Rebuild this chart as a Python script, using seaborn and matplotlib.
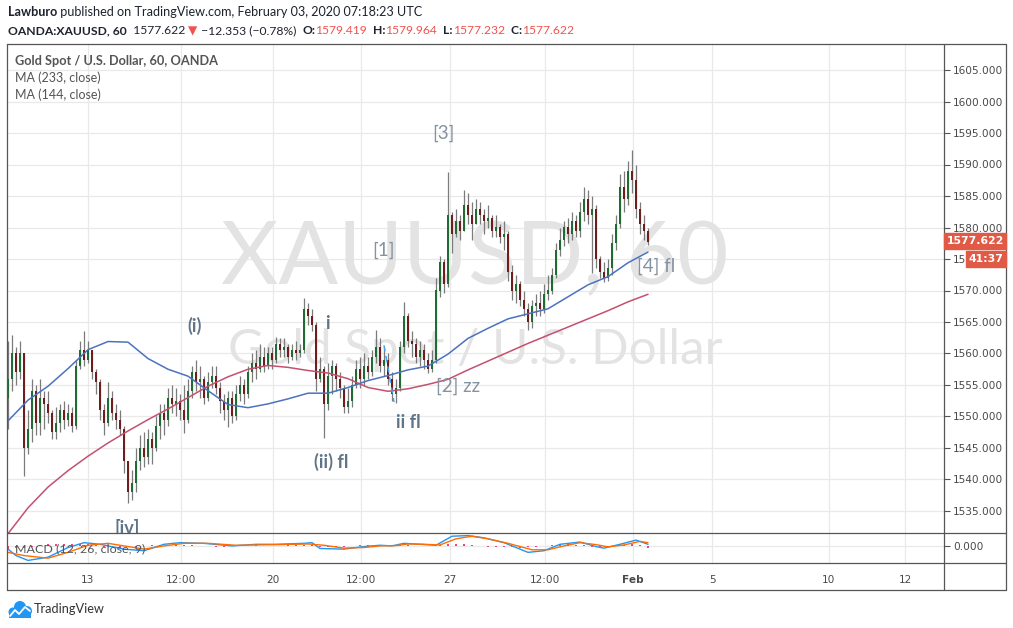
import numpy as np
import pandas as pd
import matplotlib
matplotlib.use("Agg")
import matplotlib.pyplot as plt
import seaborn as sns
from matplotlib.lines import Line2D
from matplotlib.patches import Rectangle, Circle
from matplotlib import font_manager

# ---------------- data (hourly-ish candles) ----------------
first_open = 1553.0
closes = [
    1556.0, 1560.0, 1557.0, 1560.0, 1545.0, 1548.0, 1554.0, 1549.0, 1553.0, 1552.0,
    1550.5, 1547.5, 1549.0, 1551.0, 1549.5, 1550.5, 1548.5, 1558.0, 1560.5, 1559.0,
    1560.5, 1557.0, 1555.5, 1551.0, 1549.0, 1553.0, 1550.5, 1549.5, 1548.0, 1543.0,
    1538.0, 1539.5, 1543.0, 1545.0, 1543.5, 1546.5, 1545.0, 1548.5, 1550.5, 1549.5,
    1553.0, 1552.0, 1552.5, 1551.0, 1549.5, 1554.0, 1557.0, 1555.5, 1556.0, 1553.0,
    1555.5, 1556.5, 1554.5, 1552.5, 1551.0, 1553.0, 1550.0, 1553.5, 1555.0, 1553.5,
    1557.0, 1558.5, 1557.5, 1559.5, 1558.0, 1560.0, 1559.0, 1561.5, 1560.5, 1561.0,
    1559.5, 1560.5, 1560.0, 1560.5, 1567.0, 1566.0, 1564.5, 1556.0, 1557.5, 1552.0,
    1556.5, 1558.0, 1556.0, 1554.5, 1551.5, 1552.5, 1555.0, 1557.5, 1556.0, 1558.0,
    1557.0, 1559.5, 1561.0, 1558.0, 1559.0, 1556.0, 1553.5, 1554.5, 1561.0, 1566.0,
    1562.0, 1561.5, 1559.5, 1560.5, 1559.0, 1557.5, 1559.0, 1570.0, 1574.5, 1571.0,
    1582.0, 1579.0, 1581.0, 1579.5, 1583.5, 1582.0, 1580.5, 1583.0, 1582.0, 1581.0,
    1581.5, 1579.5, 1580.0, 1578.5, 1579.0, 1573.0, 1570.0, 1571.0, 1568.5, 1567.0,
    1565.0, 1567.5, 1568.0, 1567.0, 1569.5, 1570.0, 1572.5, 1576.5, 1578.0, 1580.0,
    1579.0, 1581.0, 1579.5, 1582.5, 1584.5, 1582.0, 1583.0, 1575.0, 1573.0, 1572.0,
    1573.5, 1577.5, 1580.5, 1586.5, 1584.5, 1589.0, 1587.5, 1583.0, 1580.5, 1579.419,
    1577.622]
highs = [
    1562.0, 1563.0, 1561.0, 1562.0, 1560.0, 1551.0, 1556.0, 1555.0, 1556.0, 1554.0,
    1554.0, 1551.0, 1551.5, 1552.0, 1552.5, 1552.0, 1551.5, 1559.0, 1562.0, 1563.5,
    1562.0, 1560.5, 1557.5, 1556.0, 1552.0, 1555.5, 1554.0, 1552.0, 1551.0, 1548.5,
    1543.0, 1541.5, 1545.0, 1547.0, 1547.5, 1548.0, 1547.5, 1550.0, 1552.0, 1552.0,
    1554.5, 1555.0, 1554.5, 1553.5, 1555.0, 1556.0, 1558.0, 1559.0, 1558.0, 1556.5,
    1557.0, 1558.0, 1558.0, 1555.5, 1553.5, 1554.0, 1554.0, 1555.0, 1556.5, 1556.0,
    1558.0, 1560.0, 1560.5, 1561.5, 1561.0, 1561.0, 1561.0, 1562.6, 1562.5, 1562.5,
    1561.5, 1561.5, 1562.0, 1561.5, 1568.8, 1568.0, 1567.0, 1565.0, 1559.5, 1558.0,
    1558.5, 1559.0, 1558.5, 1557.0, 1555.0, 1554.5, 1556.5, 1559.0, 1559.5, 1560.0,
    1559.5, 1560.5, 1563.7, 1562.5, 1561.0, 1560.0, 1557.0, 1556.0, 1562.0, 1568.2,
    1566.5, 1563.5, 1562.5, 1562.0, 1561.5, 1560.0, 1560.5, 1572.0, 1575.5, 1575.0,
    1588.8, 1582.5, 1583.0, 1582.0, 1586.0, 1585.5, 1584.0, 1584.5, 1584.0, 1583.0,
    1583.5, 1582.0, 1582.0, 1580.5, 1581.0, 1579.5, 1574.0, 1572.5, 1571.5, 1570.0,
    1568.0, 1568.5, 1569.5, 1570.0, 1571.0, 1572.5, 1573.5, 1577.5, 1580.0, 1581.0,
    1581.5, 1582.5, 1582.0, 1584.0, 1586.5, 1586.0, 1585.0, 1583.5, 1575.5, 1574.5,
    1575.0, 1579.0, 1582.0, 1588.5, 1589.0, 1590.5, 1592.3, 1590.0, 1584.0, 1582.0,
    1579.964]
lows = [
    1548.0, 1554.0, 1555.0, 1556.0, 1540.5, 1544.0, 1546.0, 1547.0, 1547.0, 1548.0,
    1549.0, 1546.5, 1546.5, 1547.5, 1548.0, 1548.5, 1547.5, 1548.0, 1557.5, 1558.0,
    1558.5, 1556.0, 1553.5, 1549.5, 1547.0, 1548.5, 1549.5, 1548.0, 1547.0, 1541.0,
    1536.3, 1536.8, 1538.0, 1541.5, 1542.0, 1542.5, 1542.5, 1544.5, 1546.5, 1547.0,
    1548.5, 1550.5, 1550.0, 1549.5, 1547.4, 1549.0, 1553.0, 1554.0, 1553.0, 1552.0,
    1552.5, 1554.5, 1553.5, 1550.5, 1549.5, 1548.3, 1549.0, 1549.5, 1552.5, 1552.0,
    1553.0, 1555.5, 1556.0, 1557.0, 1557.0, 1557.5, 1557.5, 1558.5, 1559.5, 1559.5,
    1558.5, 1559.0, 1559.0, 1559.5, 1560.0, 1564.5, 1563.5, 1554.0, 1555.5, 1546.6,
    1551.0, 1553.5, 1554.0, 1553.0, 1550.5, 1550.6, 1551.5, 1554.5, 1554.5, 1555.0,
    1556.0, 1556.5, 1558.5, 1557.0, 1556.5, 1555.0, 1552.5, 1552.1, 1554.0, 1560.0,
    1561.0, 1559.5, 1558.5, 1558.0, 1557.5, 1556.9, 1557.0, 1558.5, 1569.0, 1569.6,
    1570.5, 1576.0, 1578.5, 1578.0, 1579.5, 1580.5, 1578.0, 1580.5, 1580.5, 1579.0,
    1580.0, 1578.5, 1578.5, 1577.5, 1576.5, 1571.5, 1568.5, 1568.0, 1567.5, 1566.0,
    1563.7, 1564.0, 1566.0, 1566.0, 1566.5, 1568.5, 1569.5, 1572.0, 1575.5, 1577.0,
    1577.5, 1578.0, 1578.5, 1578.5, 1581.0, 1580.5, 1572.8, 1573.5, 1572.0, 1571.4,
    1571.5, 1572.5, 1576.5, 1580.0, 1582.5, 1583.5, 1585.5, 1581.5, 1579.0, 1578.0,
    1577.232]

# moving averages, read every 5 bars
ma_idx = list(range(0, 161, 5))
ma233 = [1531.4, 1535.5, 1538.8, 1541.4, 1543.7, 1545.8, 1547.7, 1549.5, 1551.2, 1553.0,
         1554.8, 1556.3, 1557.5, 1558.1, 1557.8, 1557.3, 1556.9, 1556.0, 1554.6, 1554.0,
         1554.4, 1555.1, 1555.9, 1557.4, 1558.8, 1560.2, 1561.6, 1562.9, 1564.2, 1565.5,
         1566.8, 1568.2, 1569.4]
ma144 = [1549.3, 1552.6, 1554.8, 1557.6, 1560.6, 1561.9, 1561.8, 1559.2, 1557.5, 1556.4,
         1554.1, 1551.9, 1551.4, 1552.0, 1552.8, 1553.7, 1553.7, 1554.6, 1555.7, 1556.5,
         1557.4, 1558.0, 1559.9, 1562.4, 1564.0, 1565.5, 1566.3, 1567.1, 1569.0, 1570.9,
         1572.2, 1574.4, 1576.1]

# MACD pane (arbitrary units, zero = 0)
macd_idx = [0, 2, 5, 10, 15, 19, 23, 29, 34, 39, 43, 49, 56, 62, 67, 74, 76, 78, 84, 89,
            93, 96, 99, 103, 107, 111, 115, 119, 124, 130, 134, 138, 143, 147, 149, 153, 157, 160]
macd_vals = [-10, -30, -45, -35, -5, 10, 5, -10, -15, 5, 10, 8, 0, 5, 5, 8, 10, -8, -10, -2,
             2, 0, 8, 5, 2, 30, 32, 25, 10, -20, -15, 5, 12, -2, -7, 5, 18, 5]
signal_idx = [0, 4, 10, 15, 20, 25, 30, 34, 39, 44, 50, 57, 62, 68, 75, 79, 84, 89, 93, 97,
              100, 104, 108, 112, 116, 120, 125, 131, 135, 139, 143, 147, 150, 154, 158, 160]
signal_vals = [-20, -30, -38, -20, 2, 8, -2, -10, 0, 8, 8, 2, 3, 4, 6, 2, -7, -5, 0, 1,
               6, 5, 3, 22, 30, 22, 8, -12, -12, 0, 10, 4, -3, 3, 14, 10]
hist_idx = list(range(0, 161, 2))
hist_vals = [-10, -8, -6, -2, 3, 5, 6, 7, 7, 6, 5, 2, -2, -3, -4, -4, -3, -1, 2, 3,
             4, 3, 2, 2, 1, -1, -2, -2, -1, 1, 1, 2, 1, 1, 1, 2, 2, 3, 2, -3,
             -4, -4, -3, -1, 2, 2, 2, 1, 1, 2, 2, 1, -1, 1, 2, 5, 6, 5, 4, 1,
             -2, -3, -3, -4, -5, -4, -3, 1, 4, 5, 5, 3, 2, -2, -4, -2, 3, 4, 5, 3, -5]

price_ticks = list(range(1535, 1606, 5))
date_tick_pos = [20, 43.25, 66.25, 88.25, 110.5, 134.25, 156.25, 176, 205.25, 224.25]
date_tick_lab = ["13", "12:00", "20", "12:00", "27", "12:00", "Feb", "5", "10", "12"]

annotations = [  # text, bar, price, bold
    ("[3]", 108.75, 1595.0, False), ("[1]", 93.75, 1576.4, False),
    ("[4] fl", 162.0, 1573.9, False), ("[2] zz", 112.5, 1554.8, False),
    ("(i)", 46.75, 1564.4, True), ("i", 79.75, 1564.8, True),
    ("ii fl", 100.0, 1549.0, True), ("(ii) fl", 80.75, 1542.8, True),
    ("[iv]", 29.75, 1532.3, True)]
dash_x = [94.0, 96.5]
dash_y = [1561.3, 1552.3]

# ---------------- style ----------------
sns.set_style("white")
avail = {f.name for f in font_manager.fontManager.ttflist}
NARROW = 'Liberation Sans Narrow' if 'Liberation Sans Narrow' in avail else 'Lato'
UI = ['Lato', 'DejaVu Sans']
TICKF = ['DejaVu Sans']
plt.rcParams['font.family'] = UI

W, H = 1013, 628
fig = plt.figure(figsize=(W / 100, H / 100), dpi=100)
fig.patch.set_facecolor('white')
def fx(x): return x / W
def fy(y): return 1 - y / H

L, R, ROUT = 7, 944, 1006
T_MAIN, B_MAIN, B_MACD, B_DATE = 44, 533, 563, 590

ax = fig.add_axes([fx(L), fy(B_MAIN), (R - L) / W, (B_MAIN - T_MAIN) / H])
axm = fig.add_axes([fx(L), fy(B_MACD), (R - L) / W, (B_MACD - B_MAIN) / H], sharex=ax)

x0, x1 = (L - 8) / 4, (R - 8) / 4
ax.set_xlim(x0, x1)
ax.set_ylim(1605 - (B_MAIN - 70) / 6.3, 1605 + (70 - T_MAIN) / 6.3)

# grid
for a in (ax, axm):
    for s in a.spines.values():
        s.set_visible(False)
    a.set_axisbelow(True)
ax.set_yticks(price_ticks)
ax.set_yticklabels([f"{v:.3f}" for v in price_ticks], family=TICKF)
ax.yaxis.tick_right()
ax.set_xticks(date_tick_pos)
ax.tick_params(axis='x', length=0, labelbottom=False)
ax.tick_params(axis='y', direction='out', length=4, width=0.8, color='#555555',
               labelsize=7.6, labelcolor='#4a4a4a', pad=2.5)
ax.grid(True, color='#e9e9e9', lw=0.9)

# watermark
wm = dict(color='#e3e3e3', ha='center', va='baseline', transform=fig.transFigure, zorder=1,
          family=[NARROW, 'DejaVu Sans'])
renderer = fig.canvas.get_renderer()
def fit(text, width_px, base=10, **kw):
    t = fig.text(0, 0, text, fontsize=base, **kw)
    w = t.get_window_extent(renderer).width
    t.remove()
    return base * width_px / w
s1 = fit("XAUUSD, 60", 505, family=[NARROW, 'DejaVu Sans'])
s2 = fit("Gold Spot / U.S. Dollar", 494, family=[NARROW, 'DejaVu Sans'])
ax.text(fx(475), fy(284), "XAUUSD, 60", fontsize=s1, **wm)
ax.text(fx(475), fy(364), "Gold Spot / U.S. Dollar", fontsize=s2, **wm)

# candles
n = len(closes)
bars = np.arange(n)
opens = [first_open] + closes[:-1]
opens[-1] = 1579.419
df = pd.DataFrame({'bar': bars, 'open': opens, 'high': highs, 'low': lows, 'close': closes})
up = df['close'] >= df['open']
ax.vlines(df['bar'], df['low'], df['high'], color='#7b7b7b', lw=0.9, zorder=3)
body_lo = np.minimum(df['open'], df['close'])
body_h = np.maximum(np.abs(df['close'] - df['open']), 0.15)
ax.bar(df['bar'][up], body_h[up], bottom=body_lo[up], width=0.5, color='#1f6b33', lw=0, zorder=4)
ax.bar(df['bar'][~up], body_h[~up], bottom=body_lo[~up], width=0.5, color='#6e1c1c', lw=0, zorder=4)

# moving averages
ma_df = pd.DataFrame({'bar': ma_idx, 'ma233': ma233, 'ma144': ma144})
sns.lineplot(data=ma_df, x='bar', y='ma233', ax=ax, color='#c4506f', lw=1.1, zorder=5)
sns.lineplot(data=ma_df, x='bar', y='ma144', ax=ax, color='#4b72c0', lw=1.1, zorder=5)
ax.set_xlabel(''); ax.set_ylabel('')

# wave annotations
for txt, bx, py, bold in annotations:
    ax.text(bx, py, txt, ha='center', va='center', fontsize=13.5 if not bold else 13,
            fontweight='bold' if bold else 'normal',
            color='#5f7487' if bold else '#8593a1', zorder=6, clip_on=True, family=UI)
ax.plot(dash_x, dash_y, color='#4aa3f0', lw=1.1, ls=(0, (4, 3)), zorder=6)

# ---------------- MACD ----------------
axm.set_ylim(-53, 40)
axm.bar(hist_idx, hist_vals, width=0.7, color='#f2427f', lw=0, zorder=2)
mdf = pd.DataFrame({'bar': macd_idx, 'macd': macd_vals})
sdf = pd.DataFrame({'bar': signal_idx, 'signal': signal_vals})
sns.lineplot(data=mdf, x='bar', y='macd', ax=axm, color='#2196f3', lw=1.0, zorder=3)
sns.lineplot(data=sdf, x='bar', y='signal', ax=axm, color='#ff6d00', lw=1.0, zorder=3)
axm.set_xlabel(''); axm.set_ylabel('')
axm.yaxis.tick_right()
axm.set_yticks([0])
axm.set_yticklabels(['0.000'], family=TICKF)
axm.tick_params(axis='y', direction='out', length=4, width=0.8, color='#555555',
                labelsize=7.6, labelcolor='#4a4a4a', pad=2.5)
axm.set_xticks(date_tick_pos)
axm.set_xticklabels(date_tick_lab, family=TICKF)
for lab in axm.get_xticklabels():
    if lab.get_text() == 'Feb':
        lab.set_fontweight('bold')
axm.tick_params(axis='x', direction='out', length=4, width=0.8, color='#555555',
                labelsize=7.6, labelcolor='#4a4a4a', pad=4.5)
axm.grid(True, color='#e9e9e9', lw=0.9)
axm.set_xlim(x0, x1)
axm.text(fx(15), fy(549), "MACD (12, 26, close, 9)", transform=fig.transFigure,
         fontsize=fit("MACD (12, 26, close, 9)", 130, family=UI), color='#555555',
         va='center', ha='left', zorder=6, family=UI)

# ---------------- frame lines ----------------
fc = '#555555'
def fline(xa, ya, xb, yb):
    fig.add_artist(Line2D([fx(xa), fx(xb)], [fy(ya), fy(yb)], color=fc, lw=0.9,
                          transform=fig.transFigure, zorder=2))
for yy in (T_MAIN, B_MAIN, B_MACD, B_DATE):
    fline(L, yy, ROUT, yy)
for xx in (L, R, ROUT):
    fline(xx, T_MAIN, xx, B_DATE)

# price / countdown boxes
fig.add_artist(Rectangle((fx(R), fy(249)), (ROUT - R) / W, 16 / H, transform=fig.transFigure,
                         color='#e05a45', zorder=3))
fig.text(fx(975), fy(241), "1577.622", color='white', fontweight='bold', fontsize=7.8,
         ha='center', va='center', family=TICKF, zorder=4)
fig.add_artist(Rectangle((fx(966), fy(267)), (ROUT - 966) / W, 16 / H, transform=fig.transFigure,
                         color='#e05a45', zorder=3))
fig.text(fx(986), fy(259), "41:37", color='white', fontweight='bold', fontsize=7.8,
         ha='center', va='center', family=TICKF, zorder=4)

# ---------------- header & legend texts ----------------
def runs(x, y, parts, width_px, family=UI):
    base = 10
    tot = 0
    for txt, col, wt in parts:
        t = fig.text(0, 0, txt, fontsize=base, fontweight=wt, family=family)
        tot += t.get_window_extent(renderer).width
        t.remove()
    size = base * width_px / tot
    for txt, col, wt in parts:
        t = fig.text(fx(x), fy(y), txt, fontsize=size, fontweight=wt, color=col,
                     family=family, ha='left', va='center')
        x += t.get_window_extent(renderer).width

dark = '#1e222d'
red = '#ef5350'
runs(8, 12, [("Lawburo", dark, 'bold'),
             (" published on TradingView.com, February 03, 2020 07:18:23 UTC", dark, 'normal')], 413)
runs(8, 31, [("OANDA:XAUUSD, 60", dark, 'bold'), ("  1577.622 ", dark, 'normal'),
             ("▼", red, 'normal'), (" \u221212.353 (\u22120.78%)  ", dark, 'normal'),
             ("O:", dark, 'bold'), ("1579.419", red, 'normal'),
             ("  H:", dark, 'bold'), ("1579.964", red, 'normal'),
             ("  L:", dark, 'bold'), ("1577.232", red, 'normal'),
             ("  C:", dark, 'bold'), ("1577.622", red, 'normal')], 569)
runs(15, 61, [("Gold Spot / U.S. Dollar, 60, OANDA", '#555555', 'bold')], 204)
runs(15, 78, [("MA (233, close)", '#555555', 'normal')], 86)
runs(15, 95, [("MA (144, close)", '#555555', 'normal')], 86)

# TradingView logo
axl = fig.add_axes([fx(5), fy(620), 30 / W, 22 / H])
axl.set_xlim(5, 35); axl.set_ylim(620, 598); axl.axis('off')
for cx, cy, r in [(13, 612, 4.5), (20, 607, 6), (27, 611, 5)]:
    axl.add_patch(Circle((cx, cy), r, color='#2196f3', lw=0))
axl.add_patch(Rectangle((9, 611), 22, 6.5, color='#2196f3', lw=0))
axl.plot([10, 15, 19, 25, 30], [616, 610, 614, 607, 611], color='white', lw=1.3)
runs(34, 609, [("TradingView", '#333333', 'normal')], 71)

fig.savefig("out.png", dpi=100)
